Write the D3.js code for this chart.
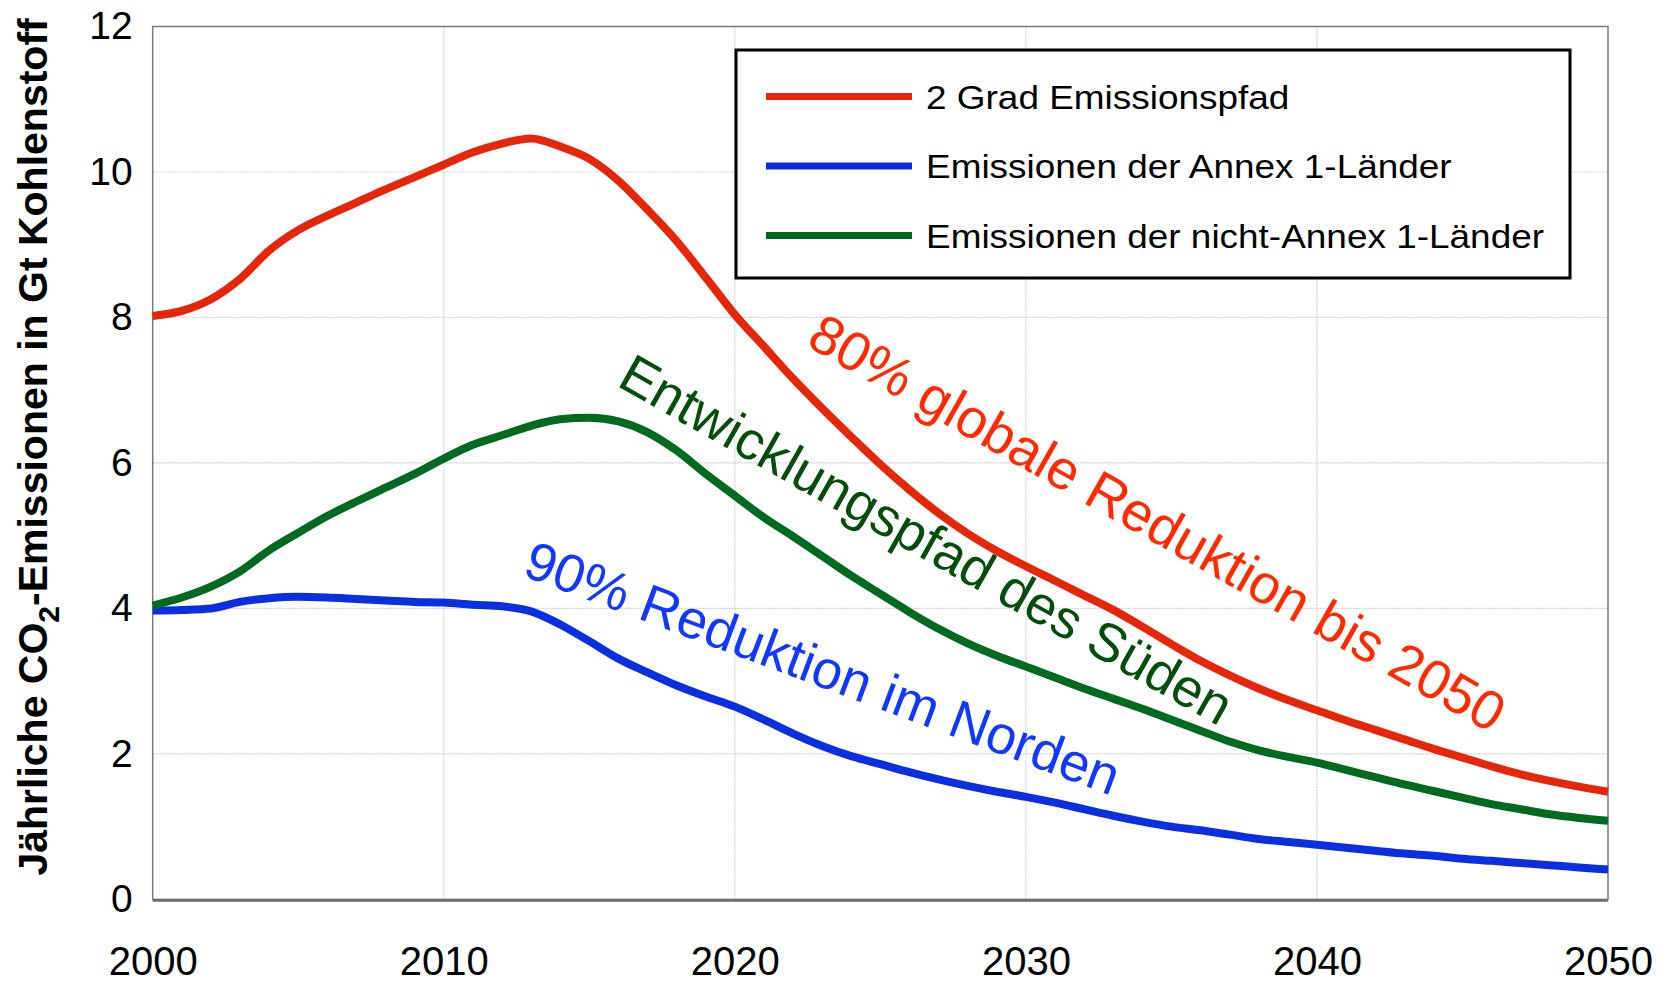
<!DOCTYPE html>
<html>
<head>
<meta charset="utf-8">
<script src="https://cdn.jsdelivr.net/npm/d3@7"></script>
<style>
  body { margin: 0; background: #fff; }
  svg { display: block; font-family: "Liberation Sans", Arial, sans-serif; }
</style>
</head>
<body>
<div id="chart"></div>
<script>
// years 2000..2050
var years = d3.range(2000, 2051);

// 2 Grad Emissionspfad (global)
var globalPath = [8.02, 8.09, 8.25, 8.53, 8.92, 9.20, 9.40, 9.58, 9.76, 9.93,
  10.10, 10.27, 10.39, 10.46, 10.35, 10.18, 9.88, 9.48, 9.05, 8.55,
  8.04, 7.60, 7.16, 6.75, 6.36, 5.98, 5.63, 5.31, 5.03, 4.79,
  4.58, 4.38, 4.18, 3.98, 3.75, 3.51, 3.28, 3.08, 2.90, 2.74,
  2.60, 2.46, 2.33, 2.20, 2.07, 1.95, 1.83, 1.72, 1.63, 1.55, 1.48];

// Annex 1 (Norden)
var annex1 = [3.97, 3.98, 4.00, 4.09, 4.14, 4.16, 4.15, 4.13, 4.11, 4.09,
  4.08, 4.05, 4.03, 3.96, 3.78, 3.55, 3.31, 3.12, 2.94, 2.79,
  2.65, 2.47, 2.28, 2.11, 1.97, 1.86, 1.75, 1.65, 1.56, 1.48,
  1.41, 1.33, 1.24, 1.15, 1.07, 1.00, 0.95, 0.89, 0.83, 0.79,
  0.75, 0.71, 0.67, 0.63, 0.60, 0.56, 0.53, 0.50, 0.47, 0.44, 0.41];

// nicht-Annex 1 (Sueden)
var nonAnnex1 = [4.04, 4.15, 4.30, 4.51, 4.80, 5.04, 5.27, 5.47, 5.66, 5.85,
  6.06, 6.25, 6.38, 6.51, 6.60, 6.62, 6.57, 6.42, 6.17, 5.85,
  5.55, 5.25, 4.99, 4.72, 4.45, 4.20, 3.95, 3.72, 3.52, 3.35,
  3.20, 3.05, 2.90, 2.76, 2.62, 2.47, 2.32, 2.17, 2.05, 1.96,
  1.88, 1.78, 1.68, 1.58, 1.49, 1.40, 1.31, 1.24, 1.17, 1.12, 1.08];

var seriesNames = ["2 Grad Emissionspfad", "Emissionen der Annex 1-Länder", "Emissionen der nicht-Annex 1-Länder"];
var seriesColors = ["#e5260a", "#0b2ee0", "#006b20"];
var seriesValues = [globalPath, annex1, nonAnnex1];

var xTicks = [2000, 2010, 2020, 2030, 2040, 2050];
var yTicks = [0, 2, 4, 6, 8, 10, 12];

var annotations = [
  { text: "80% globale Reduktion bis 2050", color: "#ff2a00", year: 2022.4, value: 7.62, angle: 29.5, size: 55 },
  { text: "Entwicklungspfad des Süden", color: "#044d0c", year: 2015.9, value: 7.07, angle: 29.5, size: 54 },
  { text: "90% Reduktion im Norden", color: "#1238ff", year: 2012.65, value: 4.46, angle: 20.5, size: 54 }
];

var width = 1663, height = 984;
var margin = { top: 26.5, right: 55, bottom: 84.6, left: 152.7 };

var svg = d3.select("#chart").append("svg")
  .attr("width", width)
  .attr("height", height);

var x = d3.scaleLinear().domain([2000, 2050]).range([margin.left, width - margin.right]);
var y = d3.scaleLinear().domain([0, 12]).range([height - margin.bottom, margin.top]);

// grid
svg.append("g")
  .selectAll("line.h")
  .data(yTicks.filter(function (d) { return d > 0 && d < 12; }))
  .enter().append("line")
    .attr("x1", x(2000)).attr("x2", x(2050))
    .attr("y1", function (d) { return y(d); })
    .attr("y2", function (d) { return y(d); })
    .attr("stroke", "#d2d2d2").attr("stroke-width", 1.2)
    .attr("stroke-dasharray", "2,1");

svg.append("g")
  .selectAll("line.v")
  .data(xTicks.filter(function (d) { return d > 2000 && d < 2050; }))
  .enter().append("line")
    .attr("x1", function (d) { return x(d); })
    .attr("x2", function (d) { return x(d); })
    .attr("y1", y(0)).attr("y2", y(12))
    .attr("stroke", "#d2d2d2").attr("stroke-width", 1.2)
    .attr("stroke-dasharray", "2,1");

// frame
svg.append("rect")
  .attr("x", x(2000)).attr("y", y(12))
  .attr("width", x(2050) - x(2000)).attr("height", y(0) - y(12))
  .attr("fill", "none").attr("stroke", "#7a7a7a").attr("stroke-width", 1.5);
svg.append("line")
  .attr("x1", x(2000)).attr("x2", x(2050))
  .attr("y1", y(0) + 1).attr("y2", y(0) + 1)
  .attr("stroke", "#6a6a6a").attr("stroke-width", 2.5);

// axes
var yAxis = svg.append("g")
  .attr("transform", "translate(" + x(2000) + ",0)")
  .call(d3.axisLeft(y).tickValues(yTicks).tickSize(0).tickPadding(20).tickFormat(d3.format("d")));
var xAxis = svg.append("g")
  .attr("transform", "translate(0," + y(0) + ")")
  .call(d3.axisBottom(x).tickValues(xTicks).tickSize(0).tickPadding(47).tickFormat(d3.format("d")));
[yAxis, xAxis].forEach(function (g) {
  g.select(".domain").remove();
  g.selectAll("text")
    .attr("font-family", "'Liberation Sans', Arial, sans-serif")
    .attr("font-size", 39)
    .attr("fill", "#000");
});
xAxis.selectAll("text").attr("font-size", 40);

// y title
var title = svg.append("text")
  .attr("transform", "translate(47," + ((y(0) + y(12)) / 2 - 16) + ") rotate(-90)")
  .attr("text-anchor", "middle")
  .attr("font-family", "'Liberation Sans', Arial, sans-serif")
  .attr("font-weight", "bold")
  .attr("font-size", 41)
  .attr("fill", "#000");
title.append("tspan").text("Jährliche CO");
title.append("tspan").attr("font-size", 30).attr("dy", 12).text("2");
title.append("tspan").attr("dy", -12).text("-Emissionen in Gt Kohlenstoff");

// lines
var line = d3.line()
  .x(function (d, i) { return x(years[i]); })
  .y(function (d) { return y(d); })
  .curve(d3.curveMonotoneX);

svg.append("g")
  .selectAll("path")
  .data(seriesValues)
  .enter().append("path")
    .attr("d", function (d) { return line(d); })
    .attr("fill", "none")
    .attr("stroke", function (d, i) { return seriesColors[i]; })
    .attr("stroke-width", 8)
    .attr("stroke-linejoin", "round");

// annotations along the curves
svg.append("g")
  .selectAll("text")
  .data(annotations)
  .enter().append("text")
    .attr("transform", function (d) {
      return "translate(" + x(d.year) + "," + y(d.value) + ") rotate(" + d.angle + ")";
    })
    .attr("font-family", "'Liberation Sans', Arial, sans-serif")
    .attr("font-size", function (d) { return d.size; })
    .attr("fill", function (d) { return d.color; })
    .text(function (d) { return d.text; });

// legend
var legend = svg.append("g").attr("transform", "translate(736,50)");
legend.append("rect")
  .attr("x", 0).attr("y", 0).attr("width", 834).attr("height", 228)
  .attr("fill", "#fff").attr("stroke", "#000").attr("stroke-width", 3);
var items = legend.selectAll("g.item")
  .data(seriesNames)
  .enter().append("g")
    .attr("transform", function (d, i) { return "translate(0," + (46.5 + i * 69.5) + ")"; });
items.append("line")
  .attr("x1", 30).attr("x2", 176)
  .attr("stroke", function (d, i) { return seriesColors[i]; })
  .attr("stroke-width", 7);
items.append("text")
  .attr("transform", "translate(190,12) scale(1.12,1)")
  .attr("font-family", "'Liberation Sans', Arial, sans-serif")
  .attr("font-size", 33)
  .attr("fill", "#000")
  .text(function (d) { return d; });
</script>
</body>
</html>
